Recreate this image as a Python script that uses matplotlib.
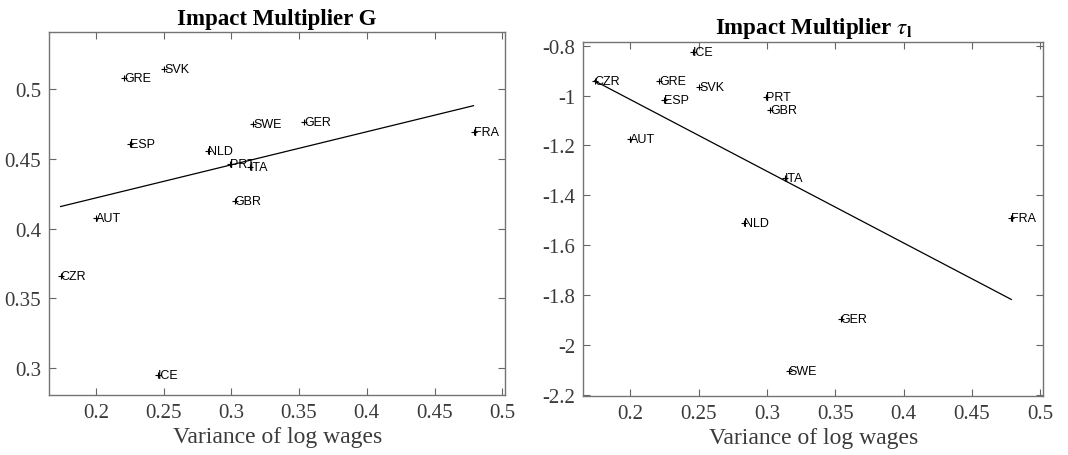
import numpy as np
import matplotlib
matplotlib.use("Agg")
import matplotlib.pyplot as plt

# Datos
paises = ["CZR", "AUT", "GRE", "ESP", "ICE", "SVK", "NLD",
          "PRT", "GBR", "ITA", "SWE", "GER", "FRA"]
var_log_w = [0.174, 0.200, 0.221, 0.225, 0.246, 0.2505, 0.283,
             0.299, 0.3024, 0.3135, 0.316, 0.354, 0.4788]
mult_g = [0.366, 0.4074, 0.5081, 0.4604, 0.2952, 0.5141, 0.4558,
          0.4459, 0.4201, 0.444, 0.4749, 0.4761, 0.4694]
mult_tau = [-0.9424, -1.173, -0.942, -1.016, -0.8264, -0.966, -1.513,
            -1.004, -1.057, -1.329, -2.1067, -1.897, -1.493]

xticks = [0.2, 0.25, 0.3, 0.35, 0.4, 0.45, 0.5]
xtick_labels = ["0.2", "0.25", "0.3", "0.35", "0.4", "0.45", "0.5"]
yticks_g = [0.3, 0.35, 0.4, 0.45, 0.5]
yticks_g_labels = ["0.3", "0.35", "0.4", "0.45", "0.5"]
yticks_tau = [-2.2, -2.0, -1.8, -1.6, -1.4, -1.2, -1.0, -0.8]
yticks_tau_labels = ["-2.2", "-2", "-1.8", "-1.6", "-1.4", "-1.2", "-1", "-0.8"]

plt.rcParams["mathtext.fontset"] = "stix"
serif = "Liberation Serif"
sans = "Liberation Sans"
gris = "#3a3a3a"

fig = plt.figure(figsize=(10.68, 4.56), dpi=100)
ax1 = fig.add_axes([0.0462, 0.1322, 0.4266, 0.7948])
ax2 = fig.add_axes([0.5462, 0.1300, 0.4304, 0.7764])


def panel(ax, y, titulo, ylim, yticks, ylabels):
    x = np.array(var_log_w)
    y = np.array(y)
    # recta de regresion MCO entre min y max de x
    b, a = np.polyfit(x, y, 1)
    xl = np.array([x.min(), x.max()])
    ax.plot(xl, a + b * xl, color="black", lw=0.9)
    ax.plot(x, y, "+", color="black", ms=4, mew=0.8)
    for xi, yi, p in zip(x, y, paises):
        ax.text(xi, yi, p, fontsize=9, family=sans, ha="left", va="center")

    ax.set_xlim(0.1657, 0.502)
    ax.set_ylim(*ylim)
    ax.set_xticks(xticks)
    ax.set_xticklabels(xtick_labels)
    ax.set_yticks(yticks)
    ax.set_yticklabels(ylabels)
    ax.tick_params(direction="in", top=True, right=True, length=5,
                   width=0.8, colors="0.4", labelcolor=gris,
                   labelsize=15, pad=6)
    for lab in ax.get_xticklabels() + ax.get_yticklabels():
        lab.set_family(serif)
    for s in ax.spines.values():
        s.set_color("0.45")
        s.set_linewidth(1.0)
    ax.set_xlabel("Variance of log wages", family=serif, fontsize=17,
                  color=gris, labelpad=3)
    ax.set_title(titulo, family=serif, fontweight="bold", fontsize=16.5,
                 pad=6)


panel(ax1, mult_g, "Impact Multiplier G", (0.281, 0.5406),
      yticks_g, yticks_g_labels)
panel(ax2, mult_tau, r"Impact Multiplier $\tau_{\mathbf{l}}$",
      (-2.204, -0.784), yticks_tau, yticks_tau_labels)

fig.savefig("out.png", dpi=100)
